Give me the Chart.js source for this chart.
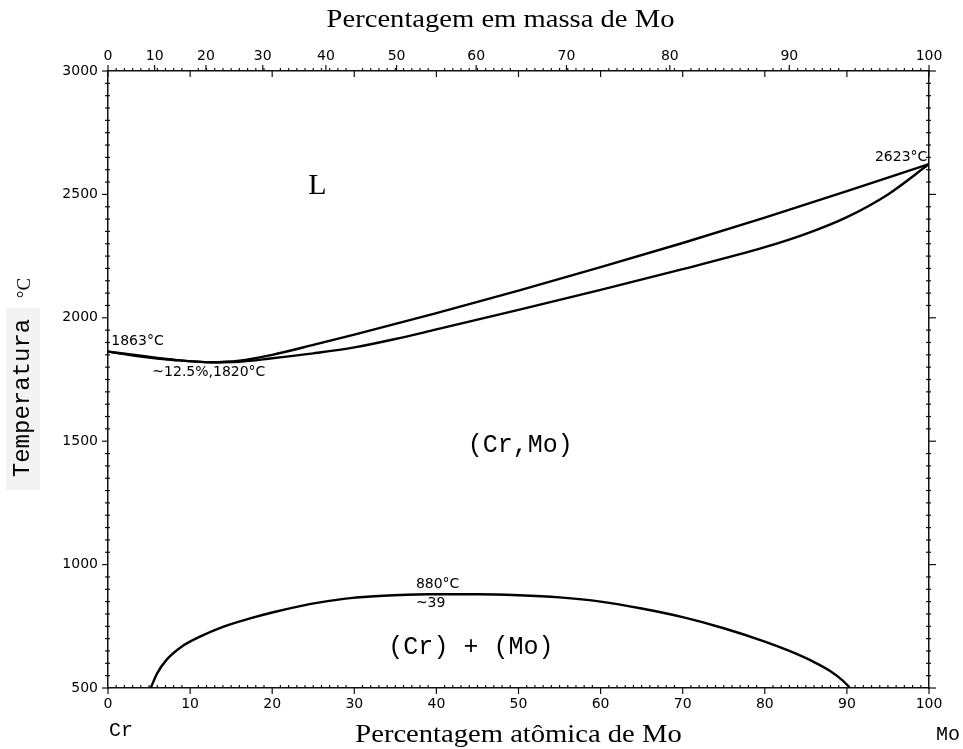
<!DOCTYPE html>
<html>
<head>
<meta charset="utf-8">
<script src="https://cdn.jsdelivr.net/npm/chart.js@4.4.1/dist/chart.umd.min.js"></script>
<style>
  body { margin: 0; background: #fff; }
  #wrap { width: 963px; height: 749px; }
</style>
</head>
<body>
<div id="wrap"><canvas id="diagrama" width="963" height="749"></canvas></div>
<script>
// Diagrama de fases Cr-Mo

// linha liquidus (% atômica de Mo, °C)
const liqX = [0, 4, 8, 12.5, 16, 20, 25, 30, 40, 50, 60, 70, 80, 90, 100];
const liqT = [1863, 1846, 1830, 1820, 1826, 1850, 1890, 1932, 2019, 2110, 2205, 2303, 2406, 2513, 2623];

// linha solidus
const solX = [0, 4, 8, 12.5, 16, 20, 25, 30, 35, 40, 50, 60, 70, 80, 85, 90, 95, 100];
const solT = [1863, 1843, 1829, 1820, 1822, 1836, 1856, 1880, 1914, 1953, 2032, 2113, 2197, 2286, 2340, 2408, 2500, 2623];

// lacuna de miscibilidade (Cr) + (Mo)
const gapX = [5.2, 6, 7.1, 9, 11.2, 14, 17.3, 20, 23.4, 26, 29.5, 33, 39, 45, 50, 55, 60, 65, 70, 75, 80, 83, 86, 88, 89.5, 90.4];
const gapT = [500, 560, 613, 668, 708, 748, 782, 806, 832, 848, 864, 873, 880, 880, 876, 867, 850, 822, 787, 742, 688, 650, 605, 568, 530, 500];

// eixos
const atTicks = [0, 10, 20, 30, 40, 50, 60, 70, 80, 90, 100];
const wtTicks = [0, 10, 20, 30, 40, 50, 60, 70, 80, 90, 100];
const tempTicks = [500, 1000, 1500, 2000, 2500, 3000];

// massas atômicas para converter % em massa -> % atômica
const M_MO = 95.95, M_CR = 52.00;
function atFromWt(w) {
  const nMo = w / M_MO, nCr = (100 - w) / M_CR;
  return 100 * nMo / (nMo + nCr);
}

function pts(xs, ys) {
  return xs.map((x, i) => ({ x: x, y: ys[i] }));
}

const lineStyle = {
  showLine: true,
  borderColor: '#000',
  borderWidth: 2.4,
  pointRadius: 0,
  fill: false,
  cubicInterpolationMode: 'monotone'
};

const fonteNota = '14px "DejaVu Sans"';
const textoCurvas = [
  { t: 'L', x: 25.5, y: 2534, font: '30px "Liberation Serif"', align: 'center' },
  { t: '(Cr,Mo)', x: 50.2, y: 1485, font: '25px "Liberation Mono"', align: 'center' },
  { t: '(Cr) + (Mo)', x: 44.2, y: 666, font: '25px "Liberation Mono"', align: 'center' },
  { t: '1863°C', x: 0.4, y: 1906, font: fonteNota, align: 'left' },
  { t: '~12.5%,1820°C', x: 5.4, y: 1780, font: fonteNota, align: 'left' },
  { t: '2623°C', x: 99.8, y: 2652, font: fonteNota, align: 'right' },
  { t: '880°C', x: 37.5, y: 921, font: fonteNota, align: 'left' },
  { t: '~39', x: 37.5, y: 844, font: fonteNota, align: 'left' }
];

// marcas dos eixos (maiores para fora, menores para dentro)
const marcasEixos = {
  id: 'marcasEixos',
  afterDraw(chart) {
    const { ctx, chartArea: a, scales } = chart;
    const x = scales.x, y = scales.y;
    ctx.save();
    ctx.strokeStyle = '#111';
    ctx.lineWidth = 1.2;
    const seg = (x1, y1, x2, y2) => { ctx.beginPath(); ctx.moveTo(x1, y1); ctx.lineTo(x2, y2); ctx.stroke(); };

    for (let v = 0; v <= 100; v++) {
      const px = x.getPixelForValue(v);
      if (v % 10 === 0) seg(px, a.bottom, px, a.bottom + 6);
      else seg(px, a.bottom, px, a.bottom - 3);
      if (v % 10 === 0) seg(px, a.top, px, a.top + 6);
      else seg(px, a.top, px, a.top - 3);
    }
    wtTicks.forEach(w => {
      const px = x.getPixelForValue(atFromWt(w));
      seg(px, a.top, px, a.top - 6);
    });
    for (let v = 500; v <= 3000; v += 50) {
      const py = y.getPixelForValue(v);
      if (v % 500 === 0) {
        seg(a.left - 6, py, a.left, py);
        seg(a.right, py, a.right + 7, py);
      } else {
        seg(a.left - 3, py, a.left + 2, py);
        seg(a.right - 3, py, a.right + 2, py);
      }
    }
    ctx.restore();
  }
};

// títulos e rótulos de texto
const textos = {
  id: 'textos',
  afterDraw(chart) {
    const { ctx, chartArea: a, scales } = chart;
    const x = scales.x, y = scales.y;
    ctx.save();
    ctx.fillStyle = '#000';
    ctx.textBaseline = 'middle';

    textoCurvas.forEach(n => {
      ctx.font = n.font;
      ctx.textAlign = n.align;
      ctx.fillText(n.t, x.getPixelForValue(n.x), y.getPixelForValue(n.y));
    });

    const cx = (a.left + a.right) / 2;
    ctx.textAlign = 'center';
    ctx.font = '26px "Liberation Serif"';
    // títulos levemente alargados como no original
    ctx.save();
    ctx.translate(cx - 18, 20);
    ctx.scale(1.1, 1);
    ctx.fillText('Percentagem em massa de Mo', 0, 0);
    ctx.restore();
    ctx.save();
    ctx.translate(cx, a.bottom + 47);
    ctx.scale(1.1, 1);
    ctx.fillText('Percentagem atômica de Mo', 0, 0);
    ctx.restore();

    ctx.font = '20px "Liberation Mono"';
    ctx.fillText('Cr', a.left + 13, a.bottom + 43);
    ctx.fillText('Mo', a.right + 19, a.bottom + 47);

    // eixo vertical
    ctx.fillStyle = '#f3f3f3';
    ctx.fillRect(6, 308, 34, 182);
    ctx.fillStyle = '#000';
    ctx.translate(23, 398);
    ctx.rotate(-Math.PI / 2);
    ctx.font = '24px "Liberation Mono"';
    ctx.fillText('Temperatura', 0, 0);
    ctx.font = '19px "Liberation Serif"';
    ctx.fillText('°C', 110, 2);
    ctx.restore();
  }
};

const tickFont = { family: '"DejaVu Sans"', size: 14 };
const borda = { display: true, color: '#111', width: 1.5 };
const grade = { display: true, drawOnChartArea: false, drawTicks: false };

const chart = new Chart(document.getElementById('diagrama'), {
  type: 'scatter',
  data: {
    datasets: [
      Object.assign({ label: 'liquidus', data: pts(liqX, liqT) }, lineStyle),
      Object.assign({ label: 'solidus', data: pts(solX, solT) }, lineStyle),
      Object.assign({ label: 'lacuna', data: pts(gapX, gapT) }, lineStyle)
    ]
  },
  options: {
    responsive: false,
    animation: false,
    layout: { padding: 0 },
    plugins: { legend: { display: false }, tooltip: { enabled: false } },
    scales: {
      x: {
        type: 'linear', position: 'bottom', min: 0, max: 100,
        afterBuildTicks: s => { s.ticks = atTicks.map(v => ({ value: v })); },
        afterFit: s => { s.height = 61; },
        ticks: { color: '#000', font: tickFont, padding: 8, maxRotation: 0,
          callback: v => String(v) },
        border: borda, grid: grade
      },
      x2: {
        type: 'linear', position: 'top', min: 0, max: 100,
        afterBuildTicks: s => { s.ticks = wtTicks.map(w => ({ value: atFromWt(w) })); },
        afterFit: s => { s.height = 71; },
        ticks: { color: '#000', font: tickFont, padding: 6, maxRotation: 0,
          callback: (v, i) => String(wtTicks[i]) },
        border: borda, grid: grade
      },
      y: {
        type: 'linear', position: 'left', min: 500, max: 3000,
        afterBuildTicks: s => { s.ticks = tempTicks.map(v => ({ value: v })); },
        afterFit: s => { s.width = 108; },
        ticks: { color: '#000', font: tickFont, padding: 10,
          callback: v => String(v) },
        border: borda, grid: grade
      },
      y2: {
        type: 'linear', position: 'right', min: 500, max: 3000,
        afterFit: s => { s.width = 34; },
        ticks: { display: false },
        border: borda, grid: grade
      }
    }
  },
  plugins: [marcasEixos, textos]
});
</script>
</body>
</html>
